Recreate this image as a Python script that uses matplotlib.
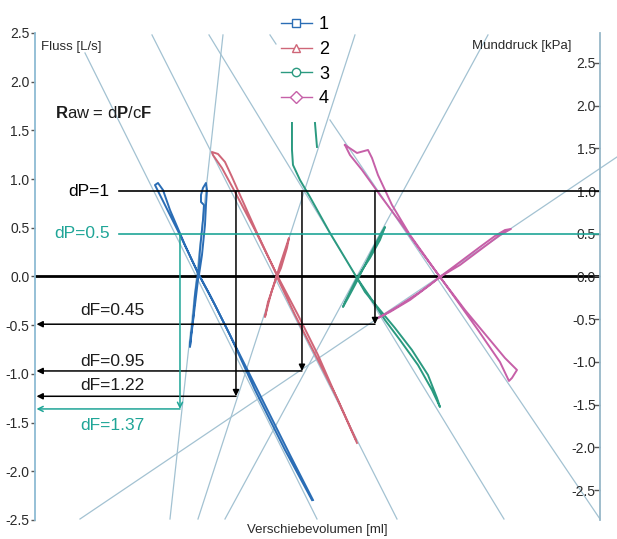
import numpy as np
import matplotlib
matplotlib.use("Agg")
import matplotlib.pyplot as plt
from matplotlib.lines import Line2D

plt.rcParams['font.family'] = ['Liberation Sans', 'DejaVu Sans']
plt.rcParams['axes.unicode_minus'] = False
plt.rcParams['mathtext.fontset'] = 'custom'
plt.rcParams['mathtext.rm'] = 'Liberation Sans'
plt.rcParams['mathtext.bf'] = 'Liberation Sans:bold'

# resistance loops: shift volume (ml) and flow (L/s)
loop1_vol = [55.4, 50.0, 44.0, 39.0, 35.0, 32.6, 29.0, 26.0, 24.0, 24.6, 25.6, 27.0, 30.0, 32.6,
             32.0, 31.6, 31.2, 31.0, 31.4, 32.0, 32.6, 33.0, 33.6, 33.8, 33.2, 33.2, 33.6, 34.2,
             34.4, 34.2, 34.0, 33.4, 32.8, 36.0, 41.0, 46.0, 51.0, 55.6]
loop1_flow = [-2.295, -1.781, -1.165, -0.601, -0.190, 0.036, 0.426, 0.734, 0.939, 0.960, 0.888,
              0.683, 0.323, 0.036, -0.190, -0.447, -0.601, -0.724, -0.549, -0.293, -0.036, 0.272,
              0.580, 0.734, 0.765, 0.837, 0.909, 0.960, 0.888, 0.734, 0.529, 0.221, 0.015,
              -0.293, -0.806, -1.319, -1.832, -2.295]

loop2_vol = [64.4, 61.0, 56.6, 52.6, 48.4, 44.0, 40.0, 37.4, 35.6, 35.4, 36.6, 38.0, 39.4, 41.0,
             44.6, 48.4, 47.4, 46.6, 46.0, 46.6, 47.8, 49.0, 50.0, 50.8, 50.4, 49.2, 48.4, 52.0,
             56.6, 60.6, 64.2]
loop2_flow = [-1.709, -1.319, -0.806, -0.395, 0.015, 0.477, 0.868, 1.114, 1.247, 1.278, 1.258,
              1.176, 1.022, 0.837, 0.426, 0.015, -0.139, -0.293, -0.416, -0.262, -0.087, 0.118,
              0.272, 0.395, 0.293, 0.087, -0.005, -0.395, -0.857, -1.268, -1.678]

loop3_vol = [51.4, 51.4, 51.6, 53.0, 55.0, 59.0, 64.4, 67.4, 70.0, 73.0, 76.6, 79.4, 81.0, 80.4,
             78.6, 75.4, 72.0, 69.0, 66.0, 64.4, 63.0, 62.0, 61.6, 62.6, 64.0, 66.0, 68.0, 69.4,
             70.0, 69.0, 67.0, 64.4, np.nan, 56.0, 56.4]
loop3_flow = [1.576, 1.299, 1.145, 0.991, 0.816, 0.447, -0.015, -0.241, -0.447, -0.652, -0.909,
              -1.165, -1.340, -1.247, -1.011, -0.755, -0.529, -0.344, -0.159, -0.015, -0.159,
              -0.262, -0.313, -0.221, -0.087, 0.118, 0.323, 0.457, 0.508, 0.375, 0.190, -0.015,
              np.nan, 1.576, 1.330]

loop4_vol = [62.0, 64.4, 66.6, 67.4, 68.6, 71.4, 75.0, 81.0, 86.0, 91.0, 94.0, 96.4, 95.4, 94.8,
             93.0, 88.6, 84.6, 81.0, 77.0, 73.0, 70.0, 68.6, 71.0, 75.0, 79.0, 81.0, 85.0, 89.0,
             92.0, 94.0, 95.2, 93.0, 89.0, 85.0, 81.0, 77.0, 73.0, 69.0, 65.4, 63.0, 62.0]
loop4_flow = [1.350, 1.268, 1.299, 1.217, 1.042, 0.734, 0.426, -0.005, -0.344, -0.652, -0.837,
              -0.960, -1.042, -1.073, -0.878, -0.549, -0.262, -0.005, -0.159, -0.293, -0.385,
              -0.426, -0.364, -0.241, -0.087, -0.005, 0.149, 0.303, 0.416, 0.477, 0.488, 0.426,
              0.272, 0.118, -0.005, 0.272, 0.560, 0.837, 1.094, 1.247, 1.350]

loops = [(loop1_vol, loop1_flow), (loop2_vol, loop2_flow),
         (loop3_vol, loop3_flow), (loop4_vol, loop4_flow)]
loop_names = ['1', '2', '3', '4']
loop_colors = ['#2a6db5', '#cf6678', '#2b9a80', '#c660a8']
loop_markers = ['s', '^', 'o', 'D']

# straight tangent lines (start / end volume and flow)
tangent_vol = [(10.0, 56.4), (23.4, 72.4), (34.8, 93.8), (59.0, 113.0), (47.0, 48.2),
               (37.6, 27.0), (64.0, 32.6), (90.6, 38.0), (9.0, 116.4)]
tangent_flow = [(2.295, -2.49), (2.48, -2.49), (2.48, -2.49), (1.607, -2.49), (2.48, 2.387),
                (2.48, -2.49), (2.48, -2.49), (2.48, -2.49), (-2.49, 1.227)]

# pressure steps (kPa, right axis) and the flow steps read from them (L/s)
dp_values = [1.0, 0.5]
dp_labels = ['dP=1', 'dP=0.5']
drop_vol = [68.0, 53.4, 40.2, 29.0]
drop_from_dp = [1.0, 1.0, 1.0, 0.5]
flow_levels = [-0.49, -0.97, -1.23, -1.36]
df_labels = ['dF=0.45', 'dF=0.95', 'dF=1.22', 'dF=1.37']

teal = '#1fa597'
ink = '#1c1c1c'
thin = '#a3c2d2'

fig = plt.figure(figsize=(6.17, 5.39), dpi=100)
ax = fig.add_axes([0.0567, 0.0353, 0.9157, 0.9035])
ax2 = ax.twinx()
ax.set_xlim(0, 113)
ax.set_ylim(-2.5, 2.5)
ax2.set_ylim(-2.85, 2.85)

ticks = np.arange(-2.5, 2.51, 0.5)
for a in (ax, ax2):
    a.set_yticks(ticks)
    a.set_yticklabels(['%.1f' % t for t in ticks])
    a.set_xticks([])
    a.spines['top'].set_visible(False)
    a.spines['bottom'].set_visible(False)
ax.spines['right'].set_visible(False)
ax2.spines['left'].set_visible(False)
ax.spines['left'].set_color('#8dbbd3')
ax.spines['left'].set_linewidth(1.3)
ax2.spines['right'].set_color('#97b7c8')
ax2.spines['right'].set_linewidth(1.3)
ax.tick_params(axis='y', length=3, width=1, color='#555555', pad=1,
               labelsize=10, labelcolor='#2a2a2a')
ax2.tick_params(axis='y', direction='in', length=4, width=1, color='#555555', pad=-3,
                labelsize=10, labelcolor='#2a2a2a')
plt.setp(ax2.get_yticklabels(), ha='right')


def right_to_left(v):
    disp = ax2.transData.transform((0, v))
    return ax.transData.inverted().transform(disp)[1]


# tangent lines
for xs, ys in zip(tangent_vol, tangent_flow):
    ax.plot(xs, ys, color=thin, lw=0.9, zorder=1, clip_on=False)

# zero line and pressure lines
ax.axhline(0, color='black', lw=2.0, zorder=2)
dp_colors = ['black', teal]
for v, lab, c in zip(dp_values, dp_labels, dp_colors):
    ax2.plot([16.8, 113], [v, v], color=c, lw=1.2, zorder=2)
    ax2.text(14.9, v, lab, ha='right', va='center', fontsize=12.5, color=c)

# loops
for (xs, ys), c in zip(loops, loop_colors):
    ax.plot(xs, ys, color=c, lw=1.4, zorder=3, solid_joinstyle='round')

# construction arrows
for i, (xv, dp, lvl) in enumerate(zip(drop_vol, drop_from_dp, flow_levels)):
    c = teal if i == 3 else 'black'
    style = '->' if i == 3 else '-|>'
    top = right_to_left(dp)
    ax.annotate('', xy=(xv, lvl), xytext=(xv, top),
                arrowprops=dict(arrowstyle=style, color=c, lw=1.1, mutation_scale=9,
                                shrinkA=0, shrinkB=0), zorder=4)
    ax.annotate('', xy=(0.3, lvl), xytext=(xv, lvl),
                arrowprops=dict(arrowstyle=style, color=c, lw=1.1, mutation_scale=9,
                                shrinkA=0, shrinkB=0), zorder=4)

df_text_y = [-0.354, -0.868, -1.124, -1.535]
for i, (lab, ty) in enumerate(zip(df_labels, df_text_y)):
    ax.text(15.4, ty, lab, ha='center', va='center', fontsize=12.5,
            color=teal if i == 3 else ink)

# annotations
ax.text(4.0, 1.68, r'$\mathbf{R}$aw = d$\mathbf{P}$/c$\mathbf{F}$', fontsize=12,
        va='center', ha='left', color=ink)
ax.text(1.2, 2.356, 'Fluss [L/s]', fontsize=9.5, va='center', ha='left', color='#2a2a2a')
ax.text(107.4, 2.366, 'Munddruck [kPa]', fontsize=9.5, va='center', ha='right', color='#2a2a2a')
ax.set_xlabel('Verschiebevolumen [ml]', fontsize=9.5, color='#2a2a2a', labelpad=3)

handles = [Line2D([], [], color=c, marker=m, mfc='white', mec=c, ms=6, lw=1.0)
           for c, m in zip(loop_colors, loop_markers)]
ax.legend(handles, loop_names, loc='upper center', bbox_to_anchor=(0.478, 1.06),
          frameon=False, fontsize=13, handlelength=1.7, handletextpad=0.4,
          labelspacing=0.42, borderpad=0.2)

fig.savefig('out.png', dpi=100)
